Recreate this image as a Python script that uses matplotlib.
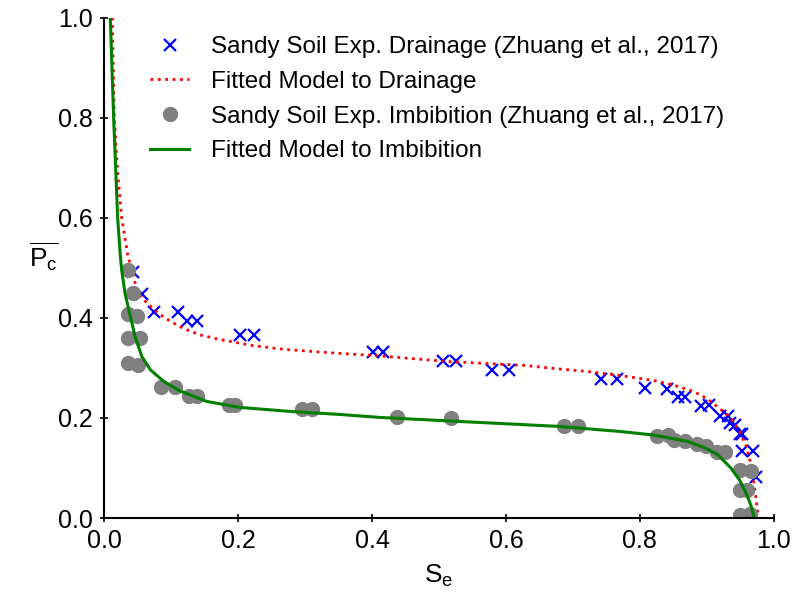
import matplotlib
matplotlib.use("Agg")
import matplotlib.pyplot as plt

plt.rcParams['font.family'] = ['Liberation Sans', 'DejaVu Sans']
plt.rcParams['mathtext.fontset'] = 'custom'
plt.rcParams['mathtext.rm'] = 'Liberation Sans'
plt.rcParams['mathtext.it'] = 'Liberation Sans'

# Experimental drainage points (Se, Pc)
drain_se = [0.043, 0.056, 0.075, 0.110, 0.123, 0.138, 0.203, 0.224,
            0.402, 0.417, 0.506, 0.525, 0.579, 0.605,
            0.742, 0.766, 0.807, 0.841, 0.857, 0.868, 0.892, 0.904,
            0.920, 0.931, 0.934, 0.942, 0.949, 0.953, 0.952, 0.969, 0.974]
drain_pc = [0.491, 0.447, 0.411, 0.411, 0.393, 0.393, 0.366, 0.366,
            0.331, 0.331, 0.314, 0.314, 0.296, 0.296,
            0.277, 0.277, 0.259, 0.257, 0.241, 0.241, 0.223, 0.225,
            0.204, 0.204, 0.189, 0.186, 0.167, 0.167, 0.133, 0.134, 0.081]

# Experimental imbibition points (Se, Pc)
imb_se = [0.036, 0.043, 0.035, 0.049, 0.036, 0.053, 0.036, 0.051,
          0.084, 0.106, 0.126, 0.138, 0.186, 0.196, 0.295, 0.311,
          0.437, 0.518, 0.686, 0.707,
          0.826, 0.842, 0.851, 0.867, 0.885, 0.899, 0.915, 0.927,
          0.949, 0.966, 0.950, 0.960, 0.949, 0.964]
imb_pc = [0.496, 0.450, 0.408, 0.404, 0.359, 0.359, 0.310, 0.306,
          0.261, 0.261, 0.244, 0.244, 0.226, 0.225, 0.217, 0.217,
          0.201, 0.199, 0.183, 0.183,
          0.164, 0.166, 0.156, 0.154, 0.147, 0.143, 0.131, 0.131,
          0.095, 0.093, 0.056, 0.055, 0.006, 0.008]

# Fitted drainage curve
fit_d_se = [0.012, 0.015, 0.020, 0.026, 0.035, 0.041, 0.046, 0.053, 0.064,
            0.081, 0.099, 0.118, 0.143, 0.172, 0.220, 0.270, 0.340, 0.412,
            0.511, 0.628, 0.671, 0.721, 0.770, 0.820, 0.850, 0.880, 0.900,
            0.919, 0.934, 0.949, 0.959, 0.967, 0.972, 0.975, 0.977]
fit_d_pc = [1.000, 0.800, 0.690, 0.600, 0.526, 0.496, 0.470, 0.446, 0.429,
            0.409, 0.393, 0.379, 0.366, 0.357, 0.345, 0.337, 0.330, 0.324,
            0.313, 0.305, 0.299, 0.293, 0.285, 0.275, 0.266, 0.253, 0.239,
            0.219, 0.203, 0.173, 0.143, 0.103, 0.056, 0.023, 0.000]

# Fitted imbibition curve
fit_i_se = [0.009, 0.014, 0.020, 0.024, 0.026, 0.031, 0.039, 0.046, 0.056,
            0.069, 0.089, 0.113, 0.153, 0.203, 0.278, 0.352, 0.412, 0.500,
            0.591, 0.680, 0.770, 0.820, 0.872, 0.899, 0.916, 0.936, 0.949,
            0.960, 0.966, 0.971]
fit_i_pc = [1.000, 0.800, 0.600, 0.523, 0.496, 0.449, 0.403, 0.363, 0.323,
            0.296, 0.273, 0.254, 0.233, 0.221, 0.213, 0.207, 0.201, 0.195,
            0.189, 0.183, 0.173, 0.166, 0.153, 0.139, 0.127, 0.100, 0.076,
            0.046, 0.025, 0.000]

fig = plt.figure(figsize=(7.96, 5.92), dpi=100)
ax = fig.add_axes([0.131, 0.125, 0.841, 0.845])

ax.plot(drain_se, drain_pc, linestyle='none', marker='x', color='blue',
        markersize=9, markeredgewidth=1.6,
        label='Sandy Soil Exp. Drainage (Zhuang et al., 2017)')
ax.plot(fit_d_se, fit_d_pc, linestyle=':', color='red', linewidth=2,
        label='Fitted Model to Drainage')
ax.plot(imb_se, imb_pc, linestyle='none', marker='o', color='grey',
        markersize=10, label='Sandy Soil Exp. Imbibition (Zhuang et al., 2017)')
ax.plot(fit_i_se, fit_i_pc, linestyle='-', color='green', linewidth=2.2,
        label='Fitted Model to Imbibition')

ax.set_xlim(0, 1)
ax.set_ylim(0, 1)
ax.set_xticks([0.0, 0.2, 0.4, 0.6, 0.8, 1.0])
ax.set_yticks([0.0, 0.2, 0.4, 0.6, 0.8, 1.0])
ax.spines['top'].set_visible(False)
ax.spines['right'].set_visible(False)
ax.spines['left'].set_linewidth(1.5)
ax.spines['bottom'].set_linewidth(1.5)
ax.tick_params(direction='inout', length=6, width=1.2, labelsize=18, pad=5)

ax.set_xlabel(r'$\mathrm{S_e}$', fontsize=19, labelpad=7)
ax.set_ylabel(r'$\overline{\mathrm{P_c}}$', fontsize=19, rotation=0)
ax.yaxis.set_label_coords(-0.09, 0.49)

leg = ax.legend(loc='upper left', bbox_to_anchor=(0.043, 0.997), frameon=False,
                fontsize=17.5, handlelength=1.6, handletextpad=0.9,
                labelspacing=0.52, borderpad=0.2)

fig.savefig('out.png', dpi=100)
